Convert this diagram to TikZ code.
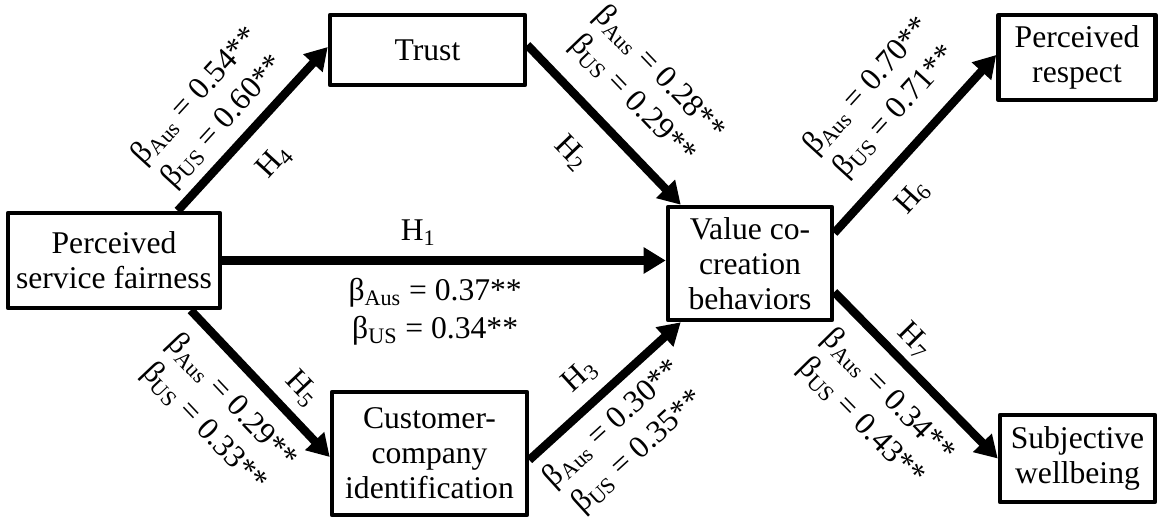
\documentclass[tikz,border=0pt]{standalone}
\usepackage{fontspec}
\setmainfont{Liberation Serif}
\usetikzlibrary{arrows.meta,calc}
\begin{document}
\begin{tikzpicture}[x=0.02cm,y=-0.02cm,
    var/.style={draw,line width=2.6pt,line join=round,align=center,inner sep=2pt,font=\fontsize{18}{20}\selectfont},
    arr/.style={line width=4.8pt,-{Triangle[length=0.44cm,width=0.5cm]}},
    coef/.style={sloped,align=center,inner sep=0pt,font=\fontsize{18}{21.5}\selectfont},
    hyp/.style={sloped,inner sep=0pt,font=\fontsize{18}{20}\selectfont}]
  \useasboundingbox (0,0) rectangle (1159,519);
  \node[var,minimum width=4.24cm,minimum height=1.9cm] (psf) at (114,260.5) {Perceived\\service fairness};
  \node[var,minimum width=3.9cm,minimum height=1.4cm] (trust) at (427.5,50) {Trust};
  \node[var,minimum width=3.28cm,minimum height=2.26cm] (vcb) at (750,263.5) {Value co-\\creation\\behaviors};
  \node[var,minimum width=3.9cm,minimum height=2.46cm] (cci) at (429.5,453.5) {Customer-\\company\\identification};
  \node[var,minimum width=3.14cm,minimum height=1.7cm] (pr) at (1077,57.5) {Perceived\\respect};
  \node[var,minimum width=3.1cm,minimum height=1.74cm] (sw) at (1077.5,458.5) {Subjective\\wellbeing};
  % paths from fairness
  \draw[arr] ($(psf.north west)+(172,0)$) -- ($(trust.west)+(0,-3)$)
    node[coef,pos=.435,yshift=0.9cm] {β\textsubscript{Aus} = 0.54**\\β\textsubscript{US} = 0.60**}
    node[hyp,pos=.457,yshift=-0.76cm] {H\textsubscript{4}};
  \draw[arr] (psf.east) -- (psf.east -| vcb.west)
    node[hyp,pos=.442,yshift=0.56cm] {H\textsubscript{1}}
    node[coef,pos=.48,yshift=-1.03cm] {β\textsubscript{Aus} = 0.37**\\β\textsubscript{US} = 0.34**};
  \draw[arr] ($(psf.south west)+(185,0)$) -- ($(cci.west)+(0,3.5)$)
    node[coef,pos=.467,yshift=-1.05cm] {β\textsubscript{Aus} = 0.29**\\β\textsubscript{US} = 0.33**}
    node[hyp,pos=.66,yshift=0.54cm] {H\textsubscript{5}};
  % mediators
  \draw[arr] ($(trust.east)+(0,-5)$) -- ($(vcb.north west)+(15,0)$)
    node[coef,pos=.507,yshift=1.13cm] {β\textsubscript{Aus} = 0.28**\\β\textsubscript{US} = 0.29**}
    node[hyp,pos=.49,yshift=-0.86cm] {H\textsubscript{2}};
  \draw[arr] ($(cci.east)+(0,6.5)$) -- ($(vcb.south west)+(15,0)$)
    node[hyp,pos=.46,yshift=0.56cm] {H\textsubscript{3}}
    node[coef,pos=.42,yshift=-0.97cm] {β\textsubscript{Aus} = 0.30**\\β\textsubscript{US} = 0.35**};
  % outcomes
  \draw[arr] ($(vcb.east)+(0,-30.5)$) -- ($(pr.west)+(0,-2.5)$)
    node[coef,pos=.543,yshift=1.1cm] {β\textsubscript{Aus} = 0.70**\\β\textsubscript{US} = 0.71**}
    node[hyp,pos=.33,yshift=-0.68cm] {H\textsubscript{6}};
  \draw[arr] ($(vcb.east)+(0,28.5)$) -- (sw.west)
    node[hyp,pos=.387,yshift=0.46cm] {H\textsubscript{7}}
    node[coef,pos=.48,yshift=-1.07cm] {β\textsubscript{Aus} = 0.34**\\β\textsubscript{US} = 0.43**};
\end{tikzpicture}
\end{document}
